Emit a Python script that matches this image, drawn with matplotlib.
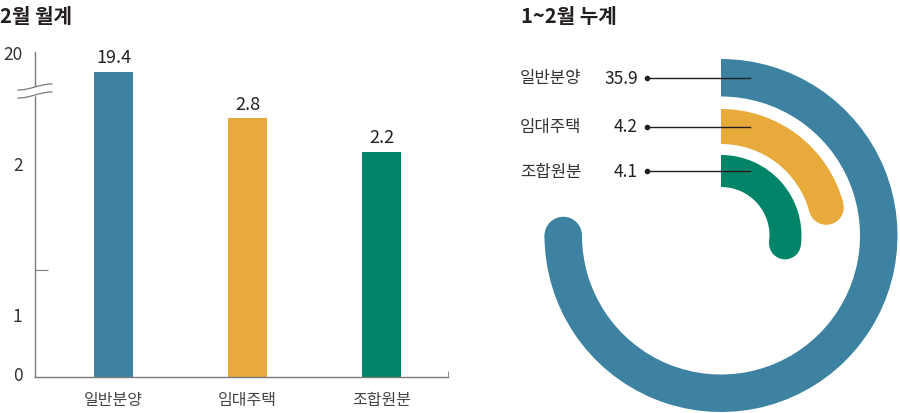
import numpy as np
import matplotlib.pyplot as plt
from matplotlib.patches import Wedge, Circle

plt.rcParams['font.family'] = ['Noto Sans CJK KR', 'DejaVu Sans']

# --- DADOS ---
categorias = ["일반분양", "임대주택", "조합원분"]
cores = ["#3d83a1", "#e9aa3c", "#028468"]
mensal = [19.4, 2.8, 2.2]          # 2월 월계
acumulado = [35.9, 4.2, 4.1]       # 1~2월 누계
arco_graus = [270, 75, 97]         # comprimento dos arcos no desenho original

# eixo y quebrado (valor -> altura em px)
knots_val = [0, 2, 3, 19, 20]
knots_pos = [0, 214, 270, 292, 325]
yticks_marca = [1, 2, 20]
ytick_rotulos = ["0", "1", "2", "20"]
ytick_pos_rotulos = [0.04, 0.585, 2, 20]

txt = "#231f20"
cinza = "#7a7a7a"

fig = plt.figure(figsize=(9, 4.14), dpi=100)
W, H = 900, 414

# --- GRAFICO 1: barras ---
ax = fig.add_axes([35 / W, (H - 378) / H, (448 - 35) / W, (378 - 53) / H])
fwd = lambda v: np.interp(v, knots_val, knots_pos)
inv = lambda p: np.interp(p, knots_pos, knots_val)
ax.set_yscale('function', functions=(fwd, inv))
ax.set_ylim(0, 20)

x = np.arange(len(categorias))
bars = ax.bar(x, mensal, width=0.29, color=cores, zorder=2)
ax.set_xlim(-0.586, 2.496)

for bar, v in zip(bars, mensal):
    ax.annotate(f"{v}", (bar.get_x() + bar.get_width() / 2, v),
                xytext=(0, 4), textcoords='offset points',
                ha='center', va='bottom', fontsize=13, color=txt)

ax.set_xticks(x, categorias, fontsize=11.5, color="#444444")
ax.tick_params(axis='x', length=0, pad=10)
ax.set_xticks([ax.get_xlim()[1]], minor=True)
ax.tick_params(axis='x', which='minor', direction='in', length=4, color=cinza)

ax.set_yticks(ytick_pos_rotulos, ytick_rotulos, fontsize=12.5, color="#333333")
ax.tick_params(axis='y', length=0, pad=9)
ax.set_yticks(yticks_marca, minor=True)
ax.tick_params(axis='y', which='minor', direction='in', length=9, color=cinza, width=0.8)

for s in ["top", "right"]:
    ax.spines[s].set_visible(False)
for s in ["left", "bottom"]:
    ax.spines[s].set_color(cinza)
    ax.spines[s].set_linewidth(1)

# --- camada em pixels para o resto ---
ov = fig.add_axes([0, 0, 1, 1])
ov.set_xlim(0, W)
ov.set_ylim(0, H)
ov.axis('off')

# simbolo de quebra
t = np.linspace(0, 1, 60)
bx = 18 + 34 * t
onda = 6 * (0.5 - 0.5 * np.cos(np.pi * t))
sup = H - (91 - onda)
inf = H - (99 - onda)
ov.fill_between(bx, inf, sup, color="white", zorder=5)
ov.plot(bx, sup, color=cinza, lw=0.9, zorder=6)
ov.plot(bx, inf, color=cinza, lw=0.9, zorder=6)

# titulos
ov.text(0, H - 16, "2월 월계", fontsize=14.5, fontweight='bold', color=txt, va='center', ha='left')
ov.text(521, H - 16, "1~2월 누계", fontsize=14.5, fontweight='bold', color=txt, va='center', ha='left')

# --- GRAFICO 2: arcos ---
cx, cy = 721, H - 236.5
raio_ext = [176.5, 126.5, 80.5]
espessura = [37.5, 35, 32]
for nome, val, ang, cor, r, w in zip(categorias, acumulado, arco_graus, cores, raio_ext, espessura):
    ov.add_patch(Wedge((cx, cy), r, 90 - ang, 90, width=w, color=cor, lw=0))
    rm = r - w / 2
    a = np.deg2rad(90 - ang)
    ov.add_patch(Circle((cx + rm * np.cos(a), cy + rm * np.sin(a)), w / 2, color=cor, lw=0))
    ly = cy + rm
    ov.plot([647, 750], [ly, ly], color=txt, lw=1, zorder=4)
    ov.plot([647], [ly], 'o', color=txt, ms=3, zorder=4)
    ov.text(520, ly, nome, fontsize=12, color="#333333", va='center', ha='left')
    ov.text(638, ly, f"{val}", fontsize=12.5, color=txt, va='center', ha='right')

fig.savefig("out.png", dpi=100)
